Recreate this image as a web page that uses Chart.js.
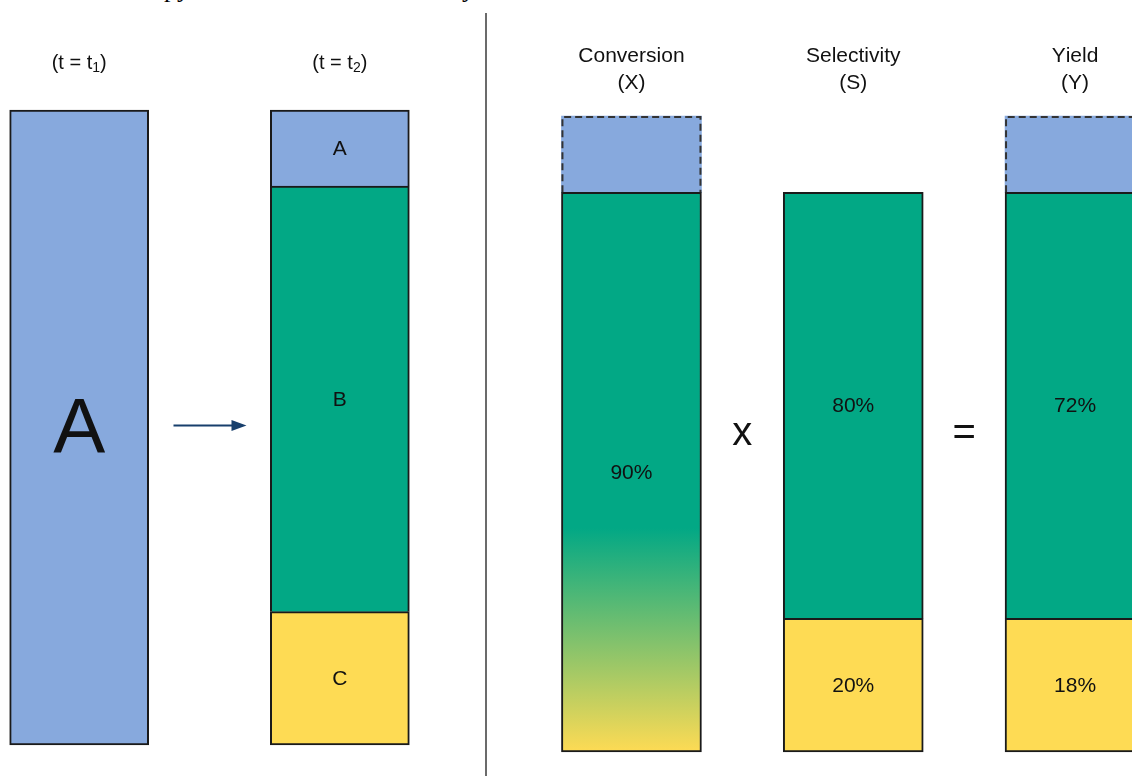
<!DOCTYPE html>
<html>
<head>
<meta charset="utf-8">
<script src="https://cdn.jsdelivr.net/npm/chart.js@4.4.1/dist/chart.umd.min.js"></script>
<style>
  html, body { margin: 0; padding: 0; background: #fff; overflow: hidden; width: 1132px; height: 776px; }
  #left { position: absolute; left: 0; top: 0; }
  #right { position: absolute; left: 486px; top: 0; }
  #divider { position: absolute; left: 485px; top: 13px; width: 2px; height: 763px; background: #6b6b6b; }
  .cut { position: absolute; top: -24px; font: 26px "Liberation Serif", serif; line-height: 26px; color: #000; }
</style>
</head>
<body>
<span class="cut" style="left:164px">py</span>
<span class="cut" style="left:462px">y</span>
<canvas id="left" width="486" height="776"></canvas>
<div id="divider"></div>
<canvas id="right" width="700" height="776"></canvas>
<script>
// left panel: feed at t1, mixture at t2 (middle slot holds the arrow)
const leftCategories = ['(t = t₁)', '', '(t = t₂)'];
const leftMarks = ['', 'arrow', ''];
const leftA = [100, null, 12];
const leftB = [null, null, 67];
const leftC = [null, null, 21];
const leftTextA = ['A', '', 'A'];
const leftTextB = ['', '', 'B'];
const leftTextC = ['', '', 'C'];

// right panel: X x S = Y
const rightCategories = [['Conversion', '(X)'], '', ['Selectivity', '(S)'], '', ['Yield', '(Y)']];
const operators = ['', 'x', '', '=', ''];
const converted = [88, null, null, null, null];
const unconverted = [12, null, null, null, 12];
const productB = [null, null, 67, null, 67];
const byproductC = [null, null, 21, null, 21];
const convertedText = ['90%', '', '', '', ''];
const productText = ['', '', '80%', '', '72%'];
const byproductText = ['', '', '20%', '', '18%'];

const blue = '#87a9dd';
const green = '#02a885';
const yellow = '#fedb54';
const edge = '#1a1a1a';
const FONT = '"Liberation Sans", Arial, sans-serif';
const SUBS = { '₁': '1', '₂': '2' };

// text in the middle of each bar segment
const segmentText = {
  id: 'segmentText',
  afterDatasetsDraw(chart) {
    const ctx = chart.ctx;
    ctx.save();
    ctx.fillStyle = '#111';
    ctx.textAlign = 'center';
    ctx.textBaseline = 'middle';
    chart.data.datasets.forEach((ds, i) => {
      if (!ds.texts) return;
      chart.getDatasetMeta(i).data.forEach((bar, j) => {
        const t = ds.texts[j];
        if (!t || ds.data[j] == null) return;
        const p = bar.getProps(['x', 'y', 'base'], true);
        const size = ds.textSize ? ds.textSize(j) : 21;
        ctx.font = size + 'px ' + FONT;
        ctx.fillText(t, p.x, (p.y + p.base) / 2 + (size > 40 ? 4 : 1));
      });
    });
    ctx.restore();
  }
};

// dashed outline for the unconverted part
const dashedEdge = {
  id: 'dashedEdge',
  afterDatasetsDraw(chart) {
    const ctx = chart.ctx;
    chart.data.datasets.forEach((ds, i) => {
      if (!ds.dashed) return;
      chart.getDatasetMeta(i).data.forEach((bar, j) => {
        if (ds.data[j] == null) return;
        const p = bar.getProps(['x', 'y', 'base', 'width'], true);
        const l = p.x - p.width / 2 + 1, r = p.x + p.width / 2 - 1, t = p.y + 1;
        ctx.save();
        ctx.strokeStyle = '#333';
        ctx.lineWidth = 2;
        ctx.setLineDash([7, 4]);
        ctx.beginPath();
        ctx.moveTo(l, p.base);
        ctx.lineTo(l, t);
        ctx.lineTo(r, t);
        ctx.lineTo(r, p.base);
        ctx.stroke();
        ctx.restore();
      });
    });
  }
};

// draw a line of text centred on cx, with unicode subscript digits shown as real subscripts
function drawHeaderLine(ctx, s, cx, y, size) {
  const subSize = Math.round(size * 0.68);
  const runs = [...s].map(ch => SUBS[ch] ? { t: SUBS[ch], sub: true } : { t: ch, sub: false });
  let total = 0;
  runs.forEach(r => {
    ctx.font = (r.sub ? subSize : size) + 'px ' + FONT;
    r.w = ctx.measureText(r.t).width;
    total += r.w;
  });
  let x = cx - total / 2;
  ctx.textAlign = 'left';
  runs.forEach(r => {
    ctx.font = (r.sub ? subSize : size) + 'px ' + FONT;
    ctx.fillText(r.t, x, r.sub ? y + size * 0.28 : y);
    x += r.w;
  });
}

// column headers above the bars + operators / arrow between them
const headers = {
  id: 'headers',
  afterDraw(chart, args, opts) {
    const ctx = chart.ctx, x = chart.scales.x, area = chart.chartArea;
    const midY = (area.top + area.bottom) / 2;
    ctx.save();
    ctx.fillStyle = '#111';
    ctx.textBaseline = 'middle';
    chart.data.labels.forEach((lab, i) => {
      const lines = [].concat(lab);
      lines.forEach((s, k) => {
        drawHeaderLine(ctx, s, x.getPixelForValue(i),
          area.top - opts.gap - (lines.length - 1 - k) * opts.lineHeight, opts.size);
      });
    });
    ctx.textAlign = 'center';
    (opts.marks || []).forEach((m, i) => {
      if (!m) return;
      const cx = x.getPixelForValue(i);
      if (m === 'arrow') {
        const y = midY - 2;
        ctx.strokeStyle = '#173f6c';
        ctx.fillStyle = '#173f6c';
        ctx.lineWidth = 2;
        ctx.beginPath();
        ctx.moveTo(cx - 36, y);
        ctx.lineTo(cx + 24, y);
        ctx.stroke();
        ctx.beginPath();
        ctx.moveTo(cx + 37, y);
        ctx.lineTo(cx + 22, y - 5.5);
        ctx.lineTo(cx + 22, y + 5.5);
        ctx.closePath();
        ctx.fill();
      } else {
        ctx.fillStyle = '#111';
        ctx.font = '40px ' + FONT;
        ctx.fillText(m, cx, midY);
      }
    });
    ctx.restore();
  }
};

const baseOptions = (padding, headerOpts) => ({
  responsive: false,
  animation: false,
  devicePixelRatio: 1,
  events: [],
  layout: { padding },
  datasets: { bar: { clip: false, borderColor: edge, borderWidth: 2 } },
  scales: {
    x: { display: false, stacked: true },
    y: { display: false, stacked: true, min: 0, max: 100 }
  },
  plugins: {
    legend: { display: false },
    tooltip: { enabled: false },
    headers: headerOpts
  }
});

new Chart(document.getElementById('left').getContext('2d'), {
  type: 'bar',
  data: {
    labels: leftCategories,
    datasets: [
      { data: leftC, backgroundColor: yellow, borderSkipped: false, barThickness: 139, texts: leftTextC },
      { data: leftB, backgroundColor: green, barThickness: 139, texts: leftTextB },
      { data: leftA, backgroundColor: blue, barThickness: 139, texts: leftTextA,
        borderSkipped: c => c.dataIndex === 0 ? false : 'start',
        textSize: j => j === 0 ? 78 : 21 }
    ]
  },
  options: baseOptions({ left: 14, right: 81, top: 110, bottom: 31 },
    { size: 20, gap: 47, lineHeight: 27, marks: leftMarks }),
  plugins: [segmentText, dashedEdge, headers]
});

new Chart(document.getElementById('right').getContext('2d'), {
  type: 'bar',
  data: {
    labels: rightCategories,
    datasets: [
      { data: converted, borderSkipped: false, barThickness: 140, texts: convertedText,
        backgroundColor(c) {
          const chart = c.chart;
          if (!chart.chartArea) return green;
          const y = chart.scales.y;
          const g = chart.ctx.createLinearGradient(0, y.getPixelForValue(converted[0]), 0, y.getPixelForValue(0));
          g.addColorStop(0, green);
          g.addColorStop(0.6, green);
          g.addColorStop(1, yellow);
          return g;
        } },
      { data: byproductC, backgroundColor: yellow, borderSkipped: false, barThickness: 140, texts: byproductText },
      { data: productB, backgroundColor: green, barThickness: 140, texts: productText },
      { data: unconverted, backgroundColor: blue, borderWidth: 0, barThickness: 140, dashed: true }
    ]
  },
  options: baseOptions({ left: 90, right: 55.5, top: 116, bottom: 24 },
    { size: 21, gap: 33, lineHeight: 27, marks: operators }),
  plugins: [segmentText, dashedEdge, headers]
});
</script>
</body>
</html>
